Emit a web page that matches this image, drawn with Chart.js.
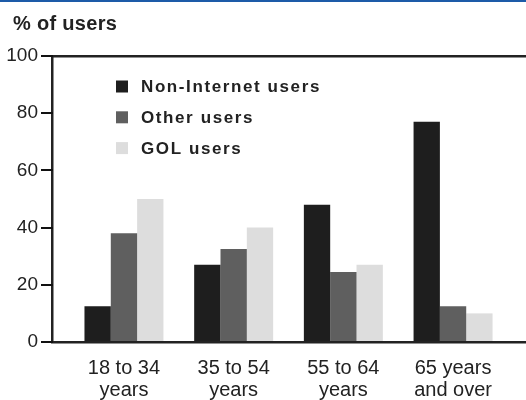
<!DOCTYPE html>
<html>
<head>
<meta charset="utf-8">
<title>% of users by age group</title>
<script src="https://cdn.jsdelivr.net/npm/chart.js@4/dist/chart.umd.min.js"></script>
<style>
  html, body { margin: 0; padding: 0; background: #ffffff; }
  #wrap { width: 526px; height: 400px; }
</style>
</head>
<body>
<div id="wrap"><canvas id="chart" width="526" height="400"></canvas></div>
<script>
// Age groups (two-line labels) and the share of users in each group
const categories = [
  ['18 to 34', 'years'],
  ['35 to 54', 'years'],
  ['55 to 64', 'years'],
  ['65 years', 'and over']
];
const seriesNames = ['Non-Internet users', 'Other users', 'GOL users'];
const nonInternetUsers = [12.5, 27, 48, 77];
const otherUsers = [38, 32.5, 24.5, 12.5];
const golUsers = [50, 40, 27, 10];
const yTicks = [0, 20, 40, 60, 80, 100];
const axisTitle = '% of users';

const INK = '#222222';
const FONT = "'Liberation Sans', Arial, Helvetica, sans-serif";
const seriesColors = ['#1e1e1e', '#5f5f5f', '#dddddd'];
const TICK_LEN = 11;

const toPoints = values => values.map((v, i) => ({ x: i, y: v }));

// Thin blue rule across the top of the page, and the unit caption under it
const header = {
  id: 'header',
  beforeDraw(chart) {
    const ctx = chart.ctx;
    ctx.save();
    ctx.fillStyle = '#1d5ba8';
    ctx.fillRect(0, 0, chart.width, 2);
    ctx.restore();
  },
  afterDraw(chart) {
    const ctx = chart.ctx;
    ctx.save();
    ctx.font = 'bold 20px ' + FONT;
    ctx.letterSpacing = '0.3px';
    ctx.fillStyle = INK;
    ctx.textAlign = 'left';
    ctx.textBaseline = 'alphabetic';
    ctx.fillText(axisTitle, 13, 30);
    ctx.restore();
  }
};

// Outward tick marks on the value axis, placed by the y scale
const yTickMarks = {
  id: 'yTickMarks',
  afterDraw(chart) {
    const { ctx, chartArea } = chart;
    const y = chart.scales.y;
    ctx.save();
    ctx.fillStyle = '#111111';
    y.ticks.forEach(t => {
      const py = Math.round(y.getPixelForValue(t.value));
      ctx.fillRect(chartArea.left - TICK_LEN, py - 1, TICK_LEN + 1, 2);
    });
    ctx.restore();
  }
};

// Legend drawn as a column inside the plot area, from the datasets themselves
const insideLegend = {
  id: 'insideLegend',
  afterDraw(chart) {
    const { ctx, chartArea } = chart;
    ctx.save();
    ctx.font = 'bold 17px ' + FONT;
    ctx.letterSpacing = '1.6px';
    ctx.textBaseline = 'middle';
    ctx.textAlign = 'left';
    chart.data.datasets.forEach((ds, i) => {
      const cy = chartArea.top + 30.5 + i * 30.8;
      const bx = chartArea.left + 64;
      ctx.fillStyle = ds.backgroundColor;
      ctx.fillRect(bx, cy - 6, 12, 12);
      ctx.fillStyle = INK;
      ctx.fillText(ds.label, bx + 25, cy + 1);
    });
    ctx.restore();
  }
};

new Chart(document.getElementById('chart'), {
  type: 'bar',
  data: {
    datasets: [
      { label: seriesNames[0], data: toPoints(nonInternetUsers), backgroundColor: seriesColors[0] },
      { label: seriesNames[1], data: toPoints(otherUsers), backgroundColor: seriesColors[1] },
      { label: seriesNames[2], data: toPoints(golUsers), backgroundColor: seriesColors[2] }
    ]
  },
  options: {
    responsive: false,
    animation: false,
    devicePixelRatio: 1,
    categoryPercentage: 0.72,
    barPercentage: 1.0,
    layout: { padding: { left: 0, right: 0, top: 56, bottom: 0 } },
    plugins: {
      legend: { display: false },
      tooltip: { enabled: false },
      title: { display: false }
    },
    scales: {
      x: {
        type: 'linear',
        offset: false,
        min: -0.656,
        max: 3.665,
        afterBuildTicks: scale => { scale.ticks = categories.map((c, i) => ({ value: i })); },
        afterFit: scale => { scale.height = 58; },
        grid: { display: false },
        border: { display: true, color: INK, width: 2.5 },
        ticks: {
          autoSkip: false,
          maxRotation: 0,
          minRotation: 0,
          padding: 7.5,
          color: INK,
          font: { family: FONT, size: 20, lineHeight: 1.1 },
          callback: value => categories[value]
        }
      },
      // frame line along the top of the plot
      xTop: {
        type: 'linear',
        position: 'top',
        offset: false,
        min: -0.656,
        max: 3.665,
        afterFit: scale => { scale.height = 0; },
        grid: { display: false, drawTicks: false },
        ticks: { display: false },
        border: { display: true, color: INK, width: 2.5 }
      },
      y: {
        min: 0,
        max: 100,
        afterBuildTicks: scale => { scale.ticks = yTicks.map(v => ({ value: v })); },
        afterFit: scale => { scale.width = 52; },
        grid: {
          display: true,
          drawOnChartArea: false,
          drawTicks: true,
          tickLength: TICK_LEN,
          color: INK,
          tickColor: INK,
          lineWidth: 2,
          tickWidth: 2
        },
        border: { display: true, color: INK, width: 2.5 },
        ticks: {
          padding: 3,
          color: INK,
          font: { family: FONT, size: 19 }
        }
      }
    }
  },
  plugins: [header, yTickMarks, insideLegend]
});
</script>
</body>
</html>
